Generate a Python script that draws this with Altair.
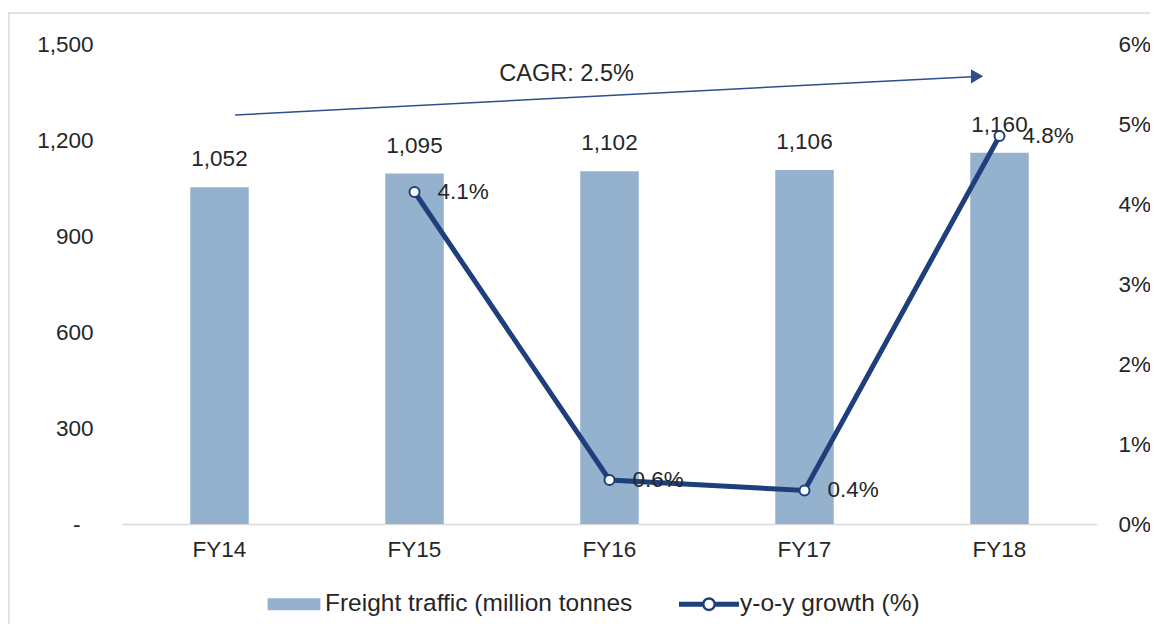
import altair as alt
import pandas as pd

categories = ["FY14", "FY15", "FY16", "FY17", "FY18"]
freight = [1052, 1095, 1102, 1106, 1160]
freight_labels = ["1,052", "1,095", "1,102", "1,106", "1,160"]
growth = [None, 4.15, 0.55, 0.42, 4.85]
growth_labels = ["", "4.1%", "0.6%", "0.4%", "4.8%"]
series_names = ["Freight traffic (million tonnes", "y-o-y growth (%)"]
left_ticks = [0, 300, 600, 900, 1200, 1500]
right_ticks = [0, 1, 2, 3, 4, 5, 6]
arrow_x = [0.58, 4.36]
arrow_y = [1278, 1398]
arrow_head_x = [4.385]
arrow_head_y = [1399]
cagr_label = ["CAGR: 2.5%"]
cagr_x = [2.28]
cagr_y = [1406]

BAR = "#94B2CD"
LINE = "#1F3F7C"
TEXT = "#262626"
FONT = "Liberation Sans"
FS = 22.5
LFS = 24.5

df = pd.DataFrame({"cat": categories, "freight": freight, "flabel": freight_labels,
                   "growth": growth, "glabel": growth_labels})
gdf = df.dropna(subset=["growth"])

xscale = alt.Scale(domain=categories, type="band", paddingInner=0.7, paddingOuter=0.35)
yl = alt.Scale(domain=[0, 1500], nice=False, zero=True)
yr = alt.Scale(domain=[0, 6], nice=False, zero=True)
xq = alt.Scale(domain=[0, 5], nice=False, zero=False)

x_axis = alt.Axis(title=None, labelAngle=0, domain=True, domainColor="#D9D9D9", domainWidth=1.5,
                  ticks=False, grid=False, labelPadding=14, labelFontSize=FS, labelColor=TEXT,
                  labelFont=FONT)
yl_axis = alt.Axis(title=None, orient="left", values=left_ticks, domain=False, ticks=False, grid=False,
                   labelExpr="datum.value == 0 ? '-' : format(datum.value, ',')",
                   labelPadding={"condition": {"test": "datum.value == 0", "value": 42}, "value": 29},
                   labelFontSize=FS, labelColor=TEXT, labelFont=FONT)
yr_axis = alt.Axis(title=None, orient="right", values=right_ticks, domain=False, ticks=False, grid=False,
                   labelExpr="datum.value + '%'", labelPadding=21, labelFontSize=FS,
                   labelColor=TEXT, labelFont=FONT)

bars = alt.Chart(df).mark_bar(color=BAR).encode(
    x=alt.X("cat:N", scale=xscale, axis=x_axis, sort=categories),
    y=alt.Y("freight:Q", scale=yl, axis=yl_axis),
)
bar_labels = alt.Chart(df).mark_text(dy=-28, baseline="middle", fontSize=FS, color=TEXT, font=FONT).encode(
    x=alt.X("cat:N", scale=xscale, sort=categories),
    y=alt.Y("freight:Q", scale=yl),
    text="flabel:N",
)
left = alt.layer(bars, bar_labels)

line = alt.Chart(gdf).mark_line(color=LINE, strokeWidth=5).encode(
    x=alt.X("cat:N", scale=xscale, axis=None, sort=categories),
    y=alt.Y("growth:Q", scale=yr, axis=yr_axis),
)
pts = alt.Chart(gdf).mark_point(filled=True, fill="white", stroke=LINE, strokeWidth=2, size=100, opacity=1).encode(
    x=alt.X("cat:N", scale=xscale, axis=None, sort=categories),
    y=alt.Y("growth:Q", scale=yr),
)
g_labels = alt.Chart(gdf).mark_text(align="left", dx=23, baseline="middle", fontSize=FS, color=TEXT, font=FONT).encode(
    x=alt.X("cat:N", scale=xscale, axis=None, sort=categories),
    y=alt.Y("growth:Q", scale=yr),
    text="glabel:N",
)
right = alt.layer(line, pts, g_labels)

adf = pd.DataFrame({"ax": arrow_x, "ay": arrow_y})
hdf = pd.DataFrame({"ax": arrow_head_x, "ay": arrow_head_y})
cdf = pd.DataFrame({"ax": cagr_x, "ay": cagr_y, "t": cagr_label})
arrow_line = alt.Chart(adf).mark_line(color="#2F4F8A", strokeWidth=1.5).encode(
    x=alt.X("ax:Q", scale=xq, axis=None),
    y=alt.Y("ay:Q", scale=yl, axis=None),
)
arrow_head = alt.Chart(hdf).mark_point(shape="triangle-right", filled=True, color="#2F4F8A", size=200, opacity=1).encode(
    x=alt.X("ax:Q", scale=xq, axis=None),
    y=alt.Y("ay:Q", scale=yl, axis=None),
)
cagr = alt.Chart(cdf).mark_text(fontSize=23.5, baseline="middle", color=TEXT, font=FONT).encode(
    x=alt.X("ax:Q", scale=xq, axis=None),
    y=alt.Y("ay:Q", scale=yl, axis=None),
    text="t:N",
)
arrow = alt.layer(arrow_line, arrow_head, cagr)

bar_path = "M-0.88,-0.2H0.88V0.2H-0.88Z"
line_path = ("M-1,-0.085H-0.22V0.085H-1Z M0.22,-0.085H1V0.085H0.22Z "
             "M0.23,0A0.23,0.23 0 1,1 -0.23,0A0.23,0.23 0 1,1 0.23,0Z "
             "M0.15,0A0.15,0.15 0 1,0 -0.15,0A0.15,0.15 0 1,0 0.15,0Z")
legend = alt.Legend(title=None, orient="none", legendX=142, legendY=530, direction="horizontal",
                    columns=2, columnPadding=46, symbolSize=3600, symbolOpacity=1, symbolStrokeWidth=0,
                    labelFontSize=LFS, labelColor=TEXT, labelFont=FONT, labelOffset=1, labelLimit=1000)
ldf = pd.DataFrame({"series": series_names})
legend_layer = alt.Chart(ldf).mark_point(filled=True, opacity=0).encode(
    color=alt.Color("series:N", scale=alt.Scale(domain=series_names, range=[BAR, LINE]), legend=legend),
    shape=alt.Shape("series:N", scale=alt.Scale(domain=series_names, range=[bar_path, line_path]), legend=legend),
)

fdf = pd.DataFrame({"a": [0]})
frame_top = alt.Chart(fdf).mark_rule(color="#D9D9D9", strokeWidth=1.5).encode(
    x=alt.value(-114), x2=alt.value(1030), y=alt.value(-31))
frame_left = alt.Chart(fdf).mark_rule(color="#D9D9D9", strokeWidth=1.5).encode(
    x=alt.value(-113), y=alt.value(-31), y2=alt.value(580))

chart = alt.layer(frame_top, frame_left, left, right, arrow, legend_layer).resolve_scale(
    x="independent", y="independent", color="independent", shape="independent"
).properties(
    width=975, height=480,
    autosize=alt.AutoSizeParams(type="none"),
    padding={"left": 114, "top": 36, "right": 53, "bottom": 105},
).configure(font=FONT).configure_view(strokeWidth=0, stroke="transparent")

chart.save("out.html", embed_options={"renderer": "svg", "actions": False})
